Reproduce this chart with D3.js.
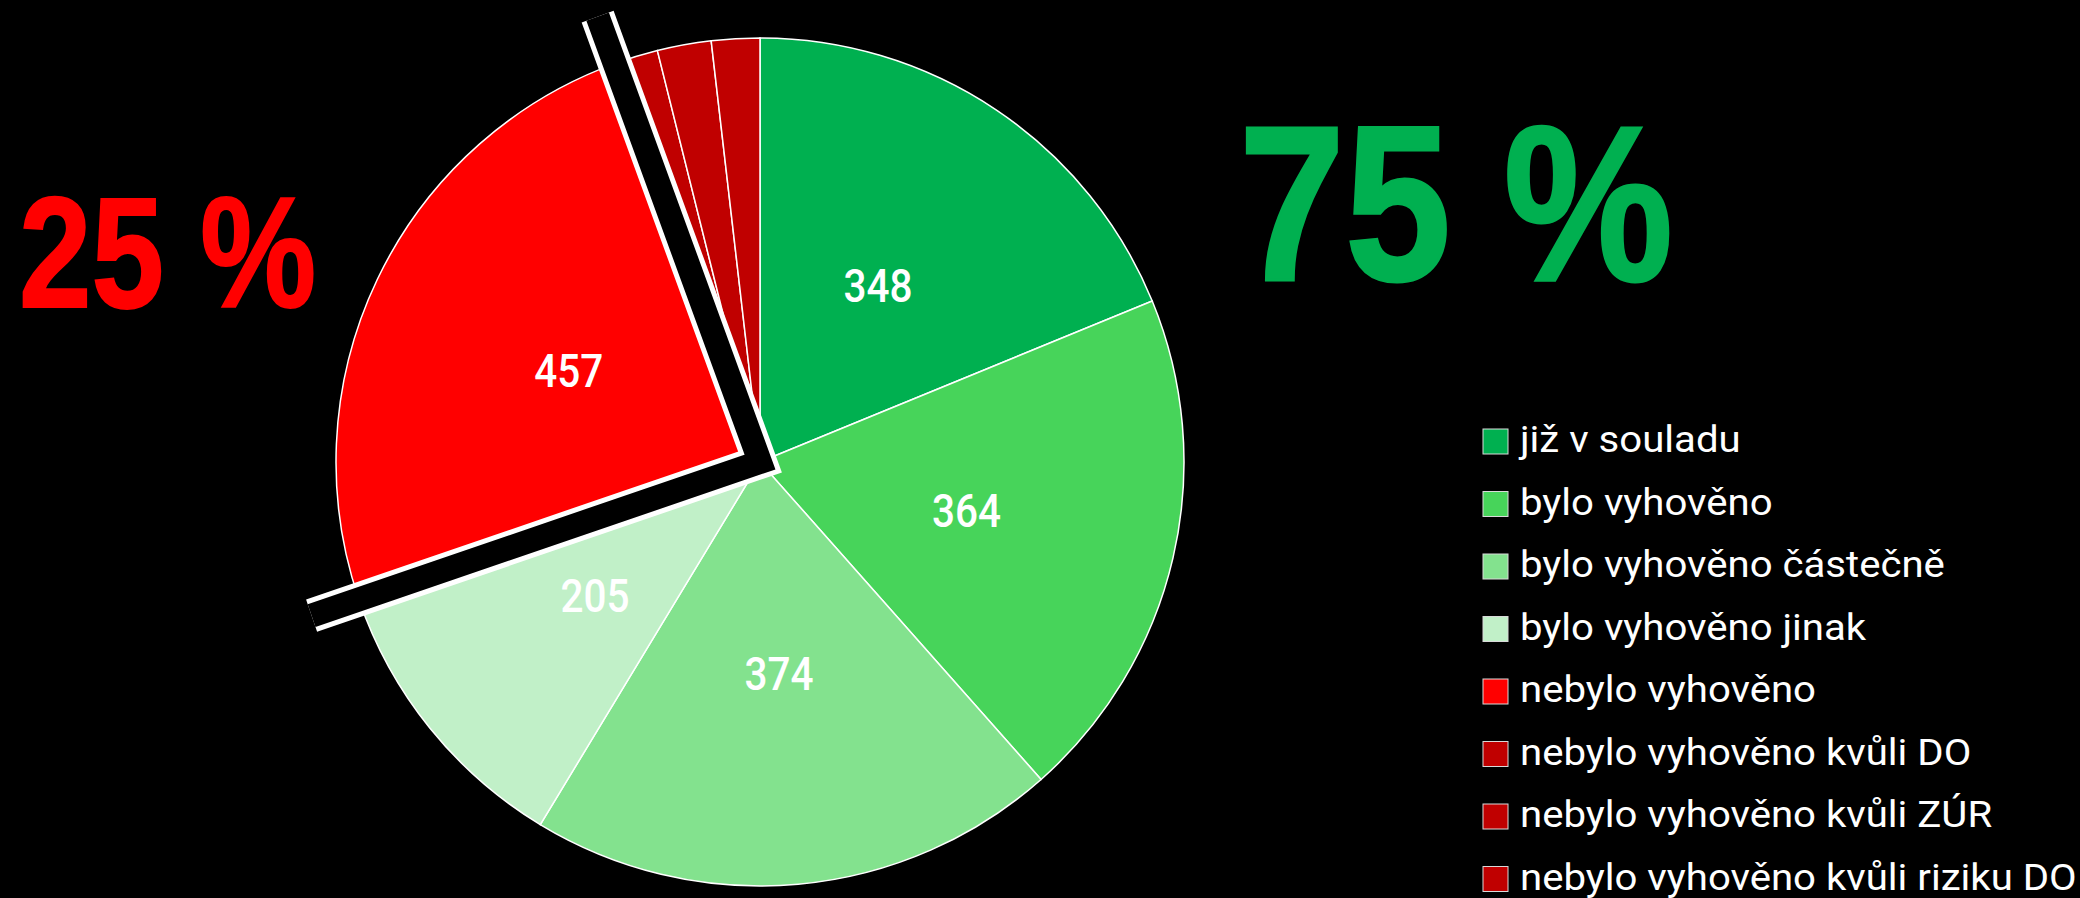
<!DOCTYPE html>
<html>
<head>
<meta charset="utf-8">
<script src="https://cdn.jsdelivr.net/npm/d3@7"></script>
<style>
  body { margin: 0; background: #000; }
  svg { display: block; }
</style>
</head>
<body>
<script>
// slices, clockwise from 12 o'clock
const categories = ["již v souladu", "bylo vyhověno", "bylo vyhověno částečně", "bylo vyhověno jinak",
  "nebylo vyhověno", "nebylo vyhověno kvůli DO", "nebylo vyhověno kvůli ZÚR", "nebylo vyhověno kvůli riziku DO"];
const values = [348, 364, 374, 205, 457, 31, 38, 34];
const colors = ["#00B050", "#47D45A", "#83E28E", "#C1F0C8", "#FF0000", "#C00000", "#C00000", "#C00000"];
const showLabel = [true, true, true, true, true, false, false, false];
const shareTexts = ["75 %", "25 %"];
const shareColors = ["#00B050", "#FF0000"];

const w = 2080, h = 898;
const cx = 760, cy = 462, R = 424;

const svg = d3.select("body").append("svg")
  .attr("width", w)
  .attr("height", h)
  .style("background", "#000");

const pie = d3.pie().sort(null).value(d => d)(values);
const arc = d3.arc().innerRadius(0).outerRadius(R);

const g = svg.append("g").attr("transform", "translate(" + cx + "," + cy + ")");

g.selectAll("path.slice")
  .data(pie)
  .enter()
  .append("path")
  .attr("class", "slice")
  .attr("d", arc)
  .attr("fill", (d, i) => colors[i])
  .attr("stroke", "#fff")
  .attr("stroke-width", 1.5);

// black band with white rim along the edges of the "nebylo vyhověno" slice
const red = pie[4];
const L = 474;
const pt = a => [L * Math.sin(a), -L * Math.cos(a)];
const bandLine = d3.line()([pt(red.endAngle), [0, 0], pt(red.startAngle)]);
g.append("path")
  .attr("d", bandLine)
  .attr("fill", "none")
  .attr("stroke", "#fff")
  .attr("stroke-width", 34)
  .attr("stroke-linejoin", "miter")
  .attr("stroke-linecap", "butt");
g.append("path")
  .attr("d", bandLine)
  .attr("fill", "none")
  .attr("stroke", "#000")
  .attr("stroke-width", 24)
  .attr("stroke-linejoin", "miter")
  .attr("stroke-linecap", "butt");

// value labels
g.selectAll("text.val")
  .data(pie.filter((d, i) => showLabel[i]))
  .enter()
  .append("text")
  .attr("class", "val")
  .attr("transform", d => "translate(" + arc.centroid(d) + ")")
  .attr("text-anchor", "middle")
  .attr("dy", "0.36em")
  .attr("textLength", 69)
  .attr("lengthAdjust", "spacingAndGlyphs")
  .attr("fill", "#fff")
  .style("font-family", "Roboto, 'Liberation Sans', sans-serif")
  .style("font-weight", "500")
  .style("font-size", "46px")
  .text(d => d.data);

// big shares
svg.append("text")
  .attr("x", 1239).attr("y", 280)
  .attr("textLength", 434).attr("lengthAdjust", "spacingAndGlyphs")
  .attr("fill", shareColors[0])
  .attr("stroke", shareColors[0])
  .attr("stroke-width", 3)
  .style("font-family", "'Liberation Sans', Arial, sans-serif")
  .style("font-weight", "bold")
  .style("font-size", "221px")
  .text(shareTexts[0]);

svg.append("text")
  .attr("x", 19).attr("y", 307)
  .attr("textLength", 297).attr("lengthAdjust", "spacingAndGlyphs")
  .attr("fill", shareColors[1])
  .attr("stroke", shareColors[1])
  .attr("stroke-width", 2)
  .style("font-family", "'Liberation Sans', Arial, sans-serif")
  .style("font-weight", "bold")
  .style("font-size", "157px")
  .text(shareTexts[1]);

// legend
const legend = svg.append("g").attr("transform", "translate(1483,429)");
const row = legend.selectAll("g")
  .data(categories)
  .enter()
  .append("g")
  .attr("transform", (d, i) => "translate(0," + (i * 62.5) + ")");

row.append("rect")
  .attr("width", 25)
  .attr("height", 25)
  .attr("fill", (d, i) => colors[i])
  .attr("stroke", "#d9d9d9")
  .attr("stroke-width", 1);

const labels = row.append("text")
  .attr("fill", "#fff")
  .style("font-family", "Roboto, sans-serif")
  .style("font-size", "37px")
  .text(d => d);

// stretch the legend font to the width seen in the picture
const sx = 425 / labels.nodes()[2].getComputedTextLength();
labels.attr("transform", "translate(37,23) scale(" + sx + ",1)");
</script>
</body>
</html>
